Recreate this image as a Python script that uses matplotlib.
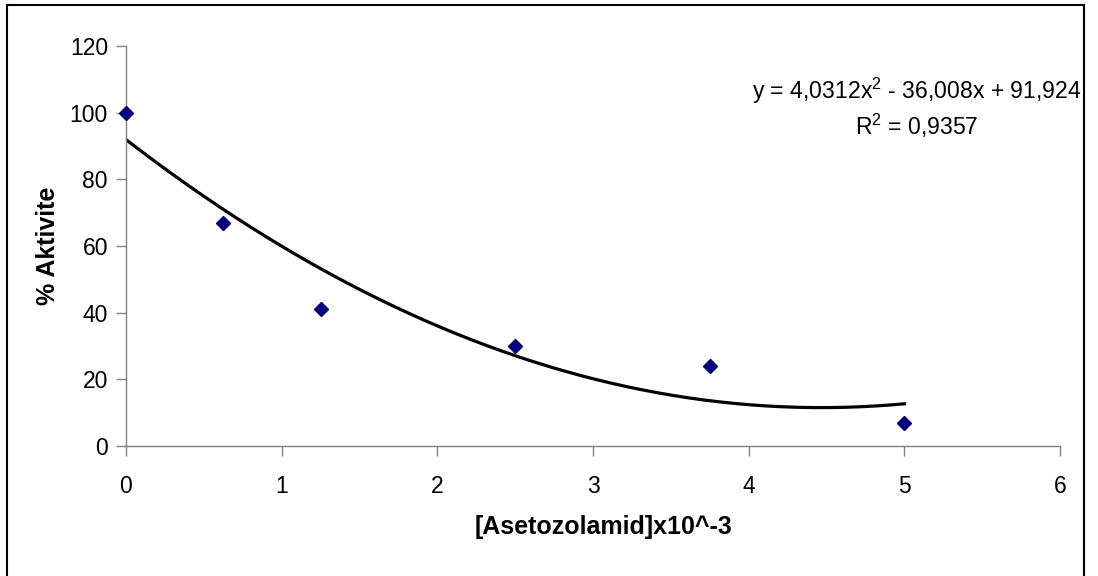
import numpy as np
import matplotlib
matplotlib.use("Agg")
import matplotlib.pyplot as plt
from matplotlib.patches import Rectangle

# Data
conc = [0.0, 0.625, 1.25, 2.5, 3.75, 5.0]
activity = [100, 67, 41, 30, 24, 7]
# Polynomial trendline coefficients (from the label on the chart)
coeffs = [4.0312, -36.008, 91.924]
r_squared = "0,9357"
x_ticks = [0, 1, 2, 3, 4, 5, 6]
y_ticks = [0, 20, 40, 60, 80, 100, 120]

plt.rcParams['font.family'] = ['Liberation Sans', 'DejaVu Sans']
plt.rcParams['mathtext.fontset'] = 'custom'
plt.rcParams['mathtext.rm'] = 'Liberation Sans'
plt.rcParams['mathtext.it'] = 'Liberation Sans:italic'
plt.rcParams['mathtext.bf'] = 'Liberation Sans:bold'

W, H = 1098, 576
fig = plt.figure(figsize=(W / 100, H / 100), dpi=100)
fig.patch.set_facecolor('white')

# outer chart frame
fig.patches.append(Rectangle((7 / W, -0.02), (1084 - 7) / W, 1.02 - 5 / H,
                             transform=fig.transFigure, fill=False,
                             edgecolor='black', linewidth=1.5))

ax = fig.add_axes([126 / W, (H - 446) / H, (1060 - 126) / W, (446 - 46) / H])
ax.set_xlim(0, 6)
ax.set_ylim(0, 120)
ax.set_xticks(x_ticks)
ax.set_yticks(y_ticks)
ax.set_xticklabels([str(t) for t in x_ticks])
ax.set_yticklabels([str(t) for t in y_ticks])

for s in ['top', 'right']:
    ax.spines[s].set_visible(False)
for s in ['left', 'bottom']:
    ax.spines[s].set_color('#808080')
    ax.spines[s].set_linewidth(1.0)
ax.tick_params(axis='both', colors='#808080', labelcolor='black',
               labelsize=16.5, length=7, width=1.0, direction='out')
ax.tick_params(axis='x', pad=14)
ax.tick_params(axis='y', pad=6)

# trendline
xs = np.linspace(conc[0], conc[-1], 200)
ax.plot(xs, np.polyval(coeffs, xs), color='black', linewidth=2.3, zorder=2)

# data points
ax.plot(conc, activity, linestyle='none', marker='D', markersize=7.5,
        color='#000080', markeredgecolor='#000080', clip_on=False, zorder=3)

ax.set_xlabel('[Asetozolamid]x10^-3', fontsize=18, fontweight='bold', labelpad=12)
ax.xaxis.label.set_x((604 - 126) / (1060 - 126))
ax.set_ylabel('% Aktivite', fontsize=18, fontweight='bold', labelpad=7)

eq = ("y = " + f"{coeffs[0]}".replace('.', ',') + "x$^{2}$ - "
      + f"{abs(coeffs[1])}".replace('.', ',') + "x + "
      + f"{coeffs[2]}".replace('.', ','))
fig.text(917 / W, 1 - 91 / H, eq, ha='center', va='center', fontsize=16.6)
fig.text(917 / W, 1 - 126 / H, "R$^{2}$ = " + r_squared, ha='center',
         va='center', fontsize=16.6)

fig.savefig('out.png', dpi=100, facecolor='white')
